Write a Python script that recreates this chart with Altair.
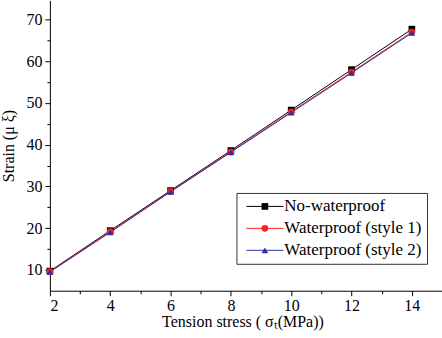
import altair as alt
import pandas as pd

stress = [2, 4, 6, 8, 10, 12, 14]
no_wp = [9.7, 19.4, 29.0, 38.6, 48.3, 58.0, 67.7]
wp1 = [9.6, 19.2, 28.8, 38.3, 47.9, 57.4, 67.0]
wp2 = [9.5, 19.0, 28.7, 38.2, 47.7, 57.2, 66.8]
series_names = ["No-waterproof", "Waterproof (style 1)", "Waterproof (style 2)"]
colors = ["#000000", "#ff2020", "#3030a0"]
marker_shapes = ["square", "circle", "triangle-up"]
x_major = [2, 4, 6, 8, 10, 12, 14]
x_minor = [3, 5, 7, 9, 11, 13, 15]
y_major = [10, 20, 30, 40, 50, 60, 70]
y_minor = [15, 25, 35, 45, 55, 65, 75]

rows = []
for i, (name, vals) in enumerate(zip(series_names, [no_wp, wp1, wp2])):
    for s, v in zip(stress, vals):
        rows.append({"stress": s, "strain": v, "series": name, "idx": i})
df = pd.DataFrame(rows)

FONT = "Liberation Serif"
xscale = alt.Scale(domain=[2, 15], nice=False, zero=False)
yscale = alt.Scale(domain=[5, 74.6], nice=False, zero=False)

x_main = alt.X("stress:Q", scale=xscale, axis=alt.Axis(
    values=x_major, tickSize=5, orient="bottom",
    labelFont=FONT, labelFontSize=16, labelColor="black",
    domainColor="black", tickColor="black", grid=False, labelPadding=2,
    title="Tension stress ( σₜ(MPa))", titleFont=FONT, titleFontSize=16,
    titleFontWeight="normal", titleColor="black", titlePadding=0, titleX=193))
y_main = alt.Y("strain:Q", scale=yscale, axis=alt.Axis(
    values=y_major, tickSize=5, orient="left",
    labelFont=FONT, labelFontSize=16, labelColor="black",
    domainColor="black", tickColor="black", grid=False, labelPadding=3,
    title="Strain (μ ξ)", titleFont=FONT, titleFontSize=16,
    titleFontWeight="normal", titleColor="black", titlePadding=9))
x_min = alt.X("stress:Q", scale=xscale, axis=alt.Axis(
    values=x_minor, tickSize=3, orient="bottom", labels=False, domain=False,
    tickColor="black", grid=False, title=None))
y_min = alt.Y("strain:Q", scale=yscale, axis=alt.Axis(
    values=y_minor, tickSize=3, orient="left", labels=False, domain=False,
    tickColor="black", grid=False, title=None))

base = alt.Chart(df)

lines = base.mark_line(strokeWidth=1).encode(
    x=x_main, y=y_main,
    color=alt.Color("series:N", sort=series_names,
                    scale=alt.Scale(domain=series_names, range=colors),
                    legend=alt.Legend(
                        title=None, orient="none", legendX=187, legendY=193,
                        symbolType="M-5.3,0H5.3", symbolSize=49, symbolStrokeWidth=1,
                        symbolOffset=15, labelOffset=11, padding=5, rowPadding=4,
                        labelFont=FONT, labelFontSize=17, labelColor="black",
                        strokeColor="#333333", fillColor="white")),
    detail="series:N")

marker_legend = alt.Legend(
    title=None, orient="none", legendX=202, legendY=193,
    symbolSize=45, symbolStrokeWidth=0, padding=5, rowPadding=4,
    labelFont=FONT, labelFontSize=17, labelOpacity=0, zindex=2)

points = base.mark_point(filled=True, size=45, opacity=1).encode(
    x=x_min, y=y_min,
    fill=alt.Fill("idx:N", scale=alt.Scale(domain=[0, 1, 2], range=colors),
                  legend=marker_legend),
    shape=alt.Shape("idx:N", scale=alt.Scale(domain=[0, 1, 2], range=marker_shapes),
                    legend=marker_legend),
)

chart = alt.layer(lines, points).resolve_axis(
    x="independent", y="independent"
).properties(
    width=393, height=291,
    autosize=alt.AutoSizeParams(type="none"),
    padding={"left": 50, "top": 0, "right": 0, "bottom": 47},
).configure_view(stroke=None)

chart.save("out.html", embed_options={"renderer": "svg", "actions": False})
